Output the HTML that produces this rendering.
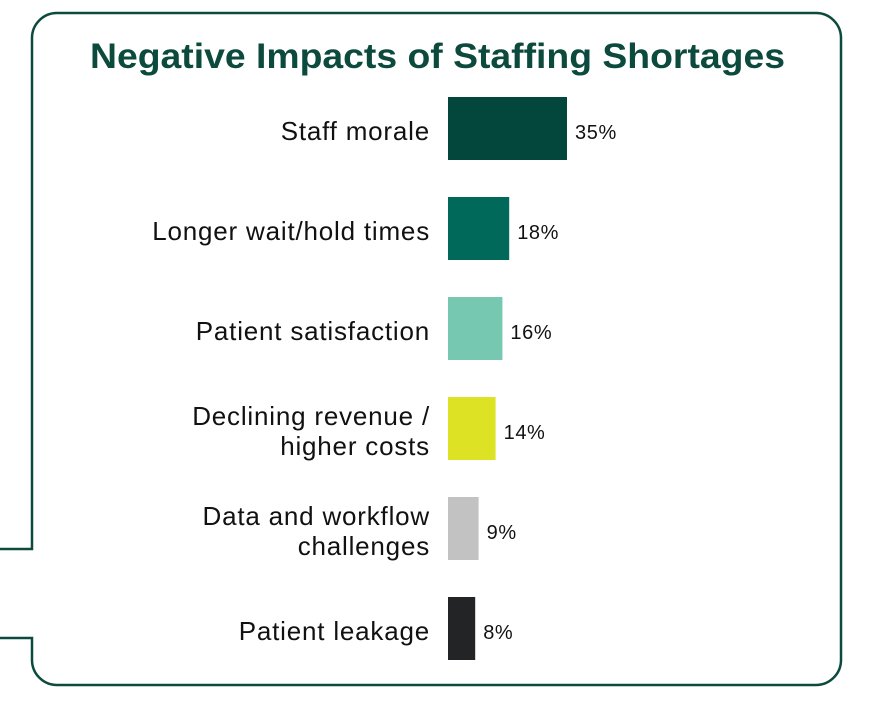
<!DOCTYPE html>
<html><head><meta charset="utf-8"><style>
body{margin:0;width:882px;height:708px;background:#fff;overflow:hidden;font-family:"Liberation Sans",sans-serif}
</style></head><body>
<svg width="882" height="708">
<path d="M0 549 H32 V38 A25 25 0 0 1 57 13 H816 A25 25 0 0 1 841 38 V660 A25 25 0 0 1 816 685 H57 A25 25 0 0 1 32 660 V638 H0" fill="none" stroke="#0b4a3c" stroke-width="2.5"/>
<text x="90" y="68" textLength="695" lengthAdjust="spacingAndGlyphs" font-size="35" font-weight="bold" fill="#0b4a3c">Negative Impacts of Staffing Shortages</text>
<g id="bars"></g>
</svg>
<script>
const categories=[["Staff morale"],["Longer wait/hold times"],["Patient satisfaction"],["Declining revenue /","higher costs"],["Data and workflow","challenges"],["Patient leakage"]];
const values=[35,18,16,14,9,8];
const colors=["#03463c","#00695a","#76c8b0","#dde224","#c2c2c2","#222426"];
const g=document.getElementById('bars');
const NS="http://www.w3.org/2000/svg";
const x=v=>448+v*3.4;
const yc=i=>128+i*100;
values.forEach((v,i)=>{
  const r=document.createElementNS(NS,'rect');
  
  
  r.setAttribute('x',448);r.setAttribute('y',yc(i)-31);
  r.setAttribute('width',x(v)-448);r.setAttribute('height',63);
  r.setAttribute('fill',colors[i]);g.appendChild(r);
  const t=document.createElementNS(NS,'text');
  
  
  t.setAttribute('x',x(v)+8);t.setAttribute('y',yc(i)+11);
  t.setAttribute('font-size','20');t.setAttribute('letter-spacing','0.6');t.setAttribute('fill','#111');
  t.textContent=v+'%';g.appendChild(t);
  const lines=categories[i];
  lines.forEach((s,k)=>{
    const c=document.createElementNS(NS,'text');
    
    
    c.setAttribute('x',430);
    c.setAttribute('y',yc(i)+12+(k-(lines.length-1)/2)*30);
    c.setAttribute('text-anchor','end');c.setAttribute('font-size','26');c.setAttribute('letter-spacing','0.8');c.setAttribute('fill','#111');
    c.textContent=s;g.appendChild(c);
  });
});
</script>
</body></html>
